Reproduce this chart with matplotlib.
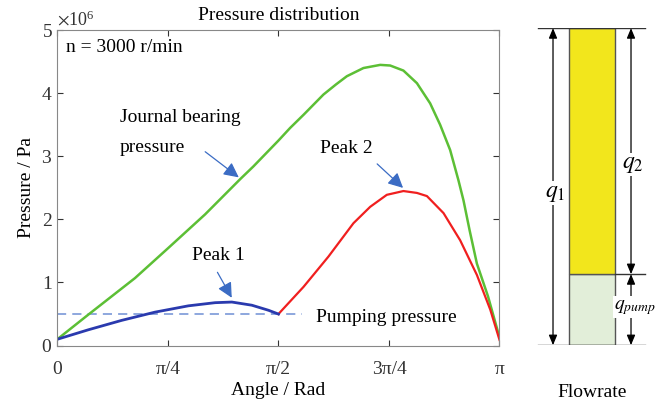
import numpy as np
import matplotlib
matplotlib.use('Agg')
import matplotlib.pyplot as plt
from matplotlib.ticker import ScalarFormatter

plt.rcParams['font.family'] = ['Liberation Serif', 'DejaVu Serif']
plt.rcParams['mathtext.fontset'] = 'stix'

PI = np.pi

# journal bearing pressure (green), values x1e6 Pa
ang_green = [0, 0.22, 0.552, 0.785, 1.05, 1.30, 1.393, 1.571, 1.654, 1.75, 1.891, 1.98, 2.057, 2.175, 2.294,
             2.365, 2.459, 2.555, 2.649, 2.72, 2.791, 2.85, 2.886, 2.93, 2.981, 3.06, 3.1416]
p_green = [0.10, 0.49, 1.07, 1.54, 2.08, 2.64, 2.84, 3.25, 3.45, 3.66, 3.98, 4.14, 4.27, 4.40, 4.45,
           4.44, 4.36, 4.16, 3.84, 3.50, 3.10, 2.62, 2.30, 1.82, 1.30, 0.78, 0.13]

# peak 1 (blue)
ang_blue = [0, 0.22, 0.458, 0.694, 0.931, 1.121, 1.240, 1.382, 1.50, 1.571]
p_blue = [0.10, 0.25, 0.40, 0.53, 0.63, 0.68, 0.69, 0.64, 0.56, 0.50]

# peak 2 (red)
ang_red = [1.571, 1.749, 1.926, 2.104, 2.223, 2.341, 2.459, 2.555, 2.626, 2.744, 2.862, 2.981, 3.076, 3.1416]
p_red = [0.50, 0.93, 1.41, 1.94, 2.20, 2.39, 2.45, 2.42, 2.37, 2.10, 1.67, 1.12, 0.57, 0.09]

# pumping pressure (dashed)
ang_pump = [0, 1.74]
p_pump = [0.5, 0.5]

tick_pos = [0, PI / 4, PI / 2, 3 * PI / 4, PI]
tick_lab = ['0', 'π/4', 'π/2', '3π/4', 'π']

# flowrate split (fractions of q1)
q_pump = 0.224
q_2 = 0.776

fig = plt.figure(figsize=(6.71, 4.08), dpi=100)
ax = fig.add_axes([0.0854, 0.153, 0.659, 0.773])

ax.plot(ang_pump, np.array(p_pump) * 1e6, color='#6f8fd4', linestyle=(0, (6, 4)), linewidth=1.1)
ax.plot(ang_green, np.array(p_green) * 1e6, color='#5cbf35', linewidth=1.8)
ax.plot(ang_red, np.array(p_red) * 1e6, color='#f01f1f', linewidth=1.6)
ax.plot(ang_blue, np.array(p_blue) * 1e6, color='#2a3aae', linewidth=2.0)

ax.set_xlim(0, PI)
ax.set_ylim(0, 5e6)
ax.set_xticks(tick_pos)
ax.set_xticklabels(tick_lab)
ax.set_yticks([0, 1e6, 2e6, 3e6, 4e6, 5e6])
fmt = ScalarFormatter(useMathText=True)
ax.yaxis.set_major_formatter(fmt)
ax.yaxis.get_offset_text().set_fontsize(13)
ax.tick_params(direction='in', top=True, right=True, labelsize=14, colors='#333333', length=4)
ax.tick_params(axis='x', pad=11)
for s in ax.spines.values():
    s.set_color('#888888')

ax.set_title('Pressure distribution', fontsize=14, pad=7)
ax.set_xlabel('Angle / Rad', fontsize=14, labelpad=3)
ax.set_ylabel('Pressure / Pa', fontsize=14)

ax.text(0.064, 4.73e6, 'n = 3000 r/min', fontsize=14, va='center')
ax.text(0.446, 3.62e6, 'Journal bearing', fontsize=14, va='center')
ax.text(0.446, 3.14e6, 'pressure', fontsize=14, va='center')
ax.text(1.867, 3.13e6, 'Peak 2', fontsize=14, va='center')
ax.text(0.957, 1.43e6, 'Peak 1', fontsize=14, va='center')
ax.text(1.838, 0.44e6, 'Pumping pressure', fontsize=14, va='center')

arr = dict(arrowstyle='-|>,head_length=0.9,head_width=0.45', color='#3b6cc4', lw=0.9)
ax.annotate('', xy=(1.305, 2.64e6), xytext=(1.035, 3.10e6), arrowprops=arr)
ax.annotate('', xy=(2.471, 2.47e6), xytext=(2.258, 2.91e6), arrowprops=arr)
ax.annotate('', xy=(1.249, 0.72e6), xytext=(1.128, 1.20e6), arrowprops=arr)

# flowrate diagram
ax2 = fig.add_axes([530 / 671, 0.154, 130 / 671, 0.777])
ax2.set_xlim(0, 1)
ax2.set_ylim(0, 1)
ax2.axis('off')
ax2.bar(0.477, q_pump, width=0.354, bottom=0, color='#e2eed9', edgecolor='#555555', linewidth=1)
ax2.bar(0.477, q_2, width=0.354, bottom=q_pump, color='#f2e61c', edgecolor='#555555', linewidth=1)
ax2.plot([0.06, 0.885], [1, 1], color='#333333', lw=1)
ax2.plot([0.06, 0.885], [0, 0], color='#333333', lw=1)
ax2.plot([0.654, 0.885], [q_pump, q_pump], color='#333333', lw=1)

darr = dict(arrowstyle='<|-|>,head_length=0.6,head_width=0.25', color='black', lw=0.9, shrinkA=0, shrinkB=0)
ax2.annotate('', xy=(0.177, 1), xytext=(0.177, 0), arrowprops=darr)
ax2.annotate('', xy=(0.777, 1), xytext=(0.777, q_pump), arrowprops=darr)
ax2.annotate('', xy=(0.777, q_pump), xytext=(0.777, 0), arrowprops=darr)

wbox = dict(facecolor='white', edgecolor='none', pad=1)
ax2.text(0.19, 0.48, '$q_1$', fontsize=17, ha='center', va='center', bbox=wbox)
ax2.text(0.79, 0.57, '$q_2$', fontsize=17, ha='center', va='center', bbox=wbox)
ax2.text(0.81, 0.12, '$q_{pump}$', fontsize=14, ha='center', va='center', bbox=wbox)
ax2.text(0.475, -0.148, 'Flowrate', fontsize=14, ha='center', va='center')

fig.savefig('out.png', dpi=100)
